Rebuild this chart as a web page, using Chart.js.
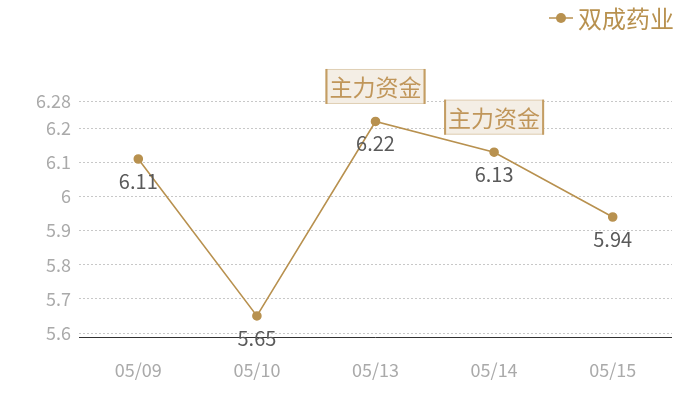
<!DOCTYPE html>
<html>
<head>
<meta charset="utf-8">
<script src="https://cdn.jsdelivr.net/npm/chart.js@4.4.0/dist/chart.umd.min.js"></script>
<style>
  html, body { margin: 0; padding: 0; background: #fff; }
  #wrap { width: 700px; height: 400px; }
</style>
</head>
<body>
<div id="wrap"><canvas id="linechart"></canvas></div>
<script>
  const categories = ['05/09', '05/10', '05/13', '05/14', '05/15'];
  const prices = [6.11, 5.65, 6.22, 6.13, 5.94];
  const yTicks = [5.6, 5.7, 5.8, 5.9, 6.0, 6.1, 6.2, 6.28];
  const seriesName = '双成药业';
  const flagText = '主力资金';
  const flagged = ['05/13', '05/14'];

  const gold = '#b8914f';
  const font = '"Noto Sans CJK SC", "Noto Sans", sans-serif';

  // data labels, flag boxes, axis line and the legend, drawn on top
  const overlay = {
    id: 'overlay',
    afterDatasetsDraw(chart) {
      const c = chart.ctx;
      const area = chart.chartArea;
      const meta = chart.getDatasetMeta(0);
      c.save();
      // x axis line sits a little under the 5.6 grid line
      c.strokeStyle = '#333';
      c.lineWidth = 1;
      c.beginPath();
      c.moveTo(area.left, area.bottom + 4.5);
      c.lineTo(area.right, area.bottom + 4.5);
      c.stroke();

      c.textAlign = 'center';
      c.textBaseline = 'middle';
      meta.data.forEach(function (pt, i) {
        c.font = '20px ' + font;
        c.fillStyle = '#5a5a5a';
        c.fillText(String(prices[i]), pt.x, pt.y + 22);
        if (flagged.indexOf(categories[i]) >= 0) {
          const w = 100, h = 35;
          const x0 = pt.x - w / 2, y0 = pt.y - 35 - h / 2;
          c.fillStyle = '#f4eee5';
          c.fillRect(x0, y0, w, h);
          c.strokeStyle = '#e0cfb4';
          c.lineWidth = 1;
          c.strokeRect(x0 + 0.5, y0 + 0.5, w - 1, h - 1);
          c.fillStyle = '#c49d63';
          c.fillRect(x0, y0, 2, h);
          c.fillRect(x0 + w - 2, y0, 2, h);
          c.font = '23px ' + font;
          c.fillStyle = '#c0965a';
          c.fillText(flagText, pt.x, y0 + h / 2 + 1);
        }
      });
      // legend
      c.strokeStyle = gold;
      c.lineWidth = 1.5;
      c.beginPath();
      c.moveTo(549, 18);
      c.lineTo(573, 18);
      c.stroke();
      c.fillStyle = gold;
      c.beginPath();
      c.arc(561, 18, 5, 0, Math.PI * 2);
      c.fill();
      c.font = '24px ' + font;
      c.textAlign = 'left';
      c.fillText(seriesName, 578, 19);
      c.restore();
    }
  };

  const ctx = document.getElementById('linechart');

  const linechart = new Chart(ctx, {
    type: 'line',
    data: {
      labels: categories,
      datasets: [{
        label: seriesName,
        data: prices,
        borderColor: gold,
        backgroundColor: gold,
        borderWidth: 1.6,
        pointRadius: 4,
        pointHoverRadius: 4,
        tension: 0
      }]
    },
    options: {
      responsive: true,
      maintainAspectRatio: false,
      animation: false,
      layout: { padding: { top: 101, right: 28, bottom: 15, left: 0 } },
      plugins: {
        legend: { display: false },
        tooltip: { enabled: false }
      },
      scales: {
        x: {
          offset: true,
          grid: { display: false },
          border: { display: false },
          ticks: { color: '#aaa', font: { size: 18, family: font }, padding: 18 },
          afterFit(axis) { axis.height = 52; }
        },
        y: {
          min: 5.6,
          max: 6.28,
          afterBuildTicks(axis) {
            axis.ticks = yTicks.map(function (v) { return { value: v }; });
          },
          afterFit(axis) { axis.width = 79; },
          grid: { color: '#c8c8c8', drawTicks: false, lineWidth: 1 },
          border: { display: false, dash: [2, 2] },
          ticks: {
            color: '#aaa',
            padding: 8,
            font: { size: 18, family: font },
            callback: function (v) { return String(Math.round(v * 100) / 100); }
          }
        }
      }
    },
    plugins: [overlay]
  });
</script>
</body>
</html>
